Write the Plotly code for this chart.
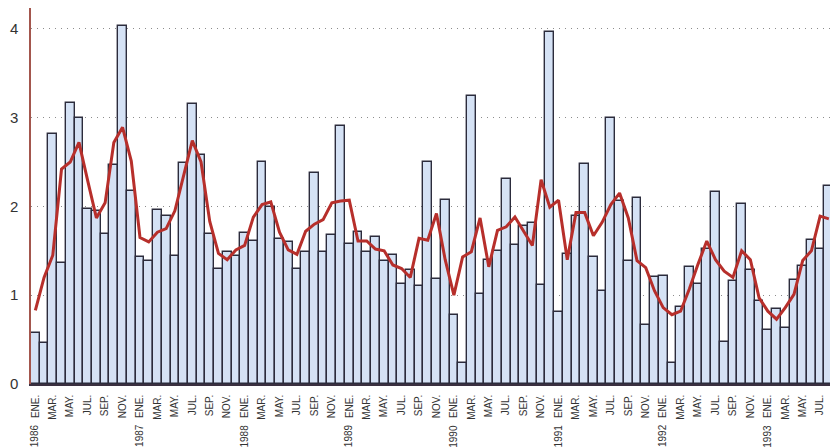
import plotly.graph_objects as go

# Month abbreviations (Spanish) and years
month_names = ["ENE.", "FEB.", "MAR.", "ABR.", "MAY.", "JUN.",
               "JUL.", "AGO.", "SEP.", "OCT.", "NOV.", "DIC."]
years = ["1986", "1987", "1988", "1989", "1990", "1991", "1992", "1993"]

# Monthly bar values, ENE 1986 .. SEP 1993
bar_values = [
    0.57, 0.46, 2.81, 1.36, 3.16, 2.99, 1.97, 1.95, 1.69, 2.47, 4.03, 2.17,  # 1986
    1.43, 1.38, 1.96, 1.89, 1.44, 2.49, 3.15, 2.58, 1.69, 1.30, 1.49, 1.44,  # 1987
    1.70, 1.61, 2.50, 1.99, 1.63, 1.60, 1.30, 1.49, 2.38, 1.49, 1.68, 2.90,  # 1988
    1.58, 1.71, 1.49, 1.65, 1.38, 1.45, 1.13, 1.28, 1.10, 2.50, 1.18, 2.07,  # 1989
    0.78, 0.24, 3.24, 1.01, 1.40, 1.50, 2.31, 1.57, 1.78, 1.81, 1.11, 3.96,  # 1990
    0.81, 1.46, 1.89, 2.48, 1.43, 1.05, 2.99, 2.06, 1.39, 2.09, 0.66, 1.20,  # 1991
    1.22, 0.24, 0.87, 1.32, 1.13, 1.52, 2.16, 0.47, 1.16, 2.03, 1.28, 0.94,  # 1992
    0.61, 0.84, 0.63, 1.17, 1.33, 1.62, 1.52, 2.23, 1.55,                    # 1993
]

# Smoothed trend line, ENE 1986 .. AGO 1993
trend_values = [
    0.83, 1.20, 1.45, 2.42, 2.50, 2.72, 2.29, 1.87, 2.04, 2.72, 2.89, 2.51,  # 1986
    1.65, 1.60, 1.71, 1.75, 1.95, 2.36, 2.74, 2.50, 1.83, 1.47, 1.40, 1.51,  # 1987
    1.56, 1.88, 2.02, 2.05, 1.71, 1.51, 1.46, 1.72, 1.80, 1.85, 2.04, 2.06,  # 1988
    2.07, 1.61, 1.61, 1.52, 1.50, 1.34, 1.30, 1.20, 1.64, 1.62, 1.92, 1.40,  # 1989
    1.00, 1.43, 1.49, 1.87, 1.32, 1.73, 1.77, 1.88, 1.72, 1.56, 2.30, 1.99,  # 1990
    2.07, 1.40, 1.93, 1.93, 1.67, 1.82, 2.02, 2.15, 1.87, 1.39, 1.31, 1.05,  # 1991
    0.86, 0.78, 0.82, 1.07, 1.35, 1.61, 1.40, 1.27, 1.20, 1.50, 1.40, 0.97,  # 1992
    0.82, 0.73, 0.86, 1.01, 1.39, 1.50, 1.89, 1.86,                          # 1993
]

y_ticks = [0, 1, 2, 3, 4]

n_bars = len(bar_values)
x_bars = list(range(n_bars))
x_line = list(range(len(trend_values)))
month_labels = [month_names[i % 12] for i in range(n_bars)]
tick_idx = [i for i in range(n_bars) if i % 2 == 0]

narrow = "Liberation Sans Narrow, Arial Narrow, Liberation Sans, Arial"

fig = go.Figure()
fig.add_trace(go.Bar(
    x=x_bars, y=bar_values, width=1.0,
    marker=dict(color="#d5e2f5", line=dict(color="#2c2c3c", width=1.4)),
    hoverinfo="skip",
))
fig.add_trace(go.Scatter(
    x=x_line, y=trend_values, mode="lines",
    line=dict(color="#b72f2b", width=3),
    hoverinfo="skip",
))

for k, yr in enumerate(years):
    fig.add_annotation(
        x=k * 12, y=-0.138, xref="x", yref="paper",
        text=yr, showarrow=False, textangle=-90,
        xanchor="center", yanchor="middle",
        font=dict(family=narrow, size=10, color="#333333"),
    )

# The page body adds an 8px offset, so the figure is sized to fill the
# remaining 830x440 area of the 838x448 window.
fig.update_layout(
    width=830, height=440,
    margin=dict(l=23, r=0, t=0, b=64, autoexpand=False),
    paper_bgcolor="white", plot_bgcolor="white",
    showlegend=False, bargap=0,
    xaxis=dict(
        range=[-0.5, 92.05],
        tickmode="array",
        tickvals=tick_idx,
        ticktext=[month_labels[i] for i in tick_idx],
        tickangle=-90,
        tickfont=dict(family=narrow, size=10, color="#333333"),
        showgrid=False, zeroline=False,
        showline=True, linecolor="#3a3040", linewidth=1.5,
        ticks="", ticklabelstandoff=5, automargin=False,
    ),
    yaxis=dict(
        range=[0, 4.234],
        tickmode="array", tickvals=y_ticks,
        tickfont=dict(family="Liberation Sans, Arial", size=15, color="#333333"),
        showgrid=True, gridcolor="#8c8c8c", griddash="1px,5px", gridwidth=1.2,
        zeroline=False,
        showline=True, linecolor="#a3564d", linewidth=1.5,
        ticks="", ticklabelstandoff=8, automargin=False,
    ),
)

fig.write_html("out.html")
